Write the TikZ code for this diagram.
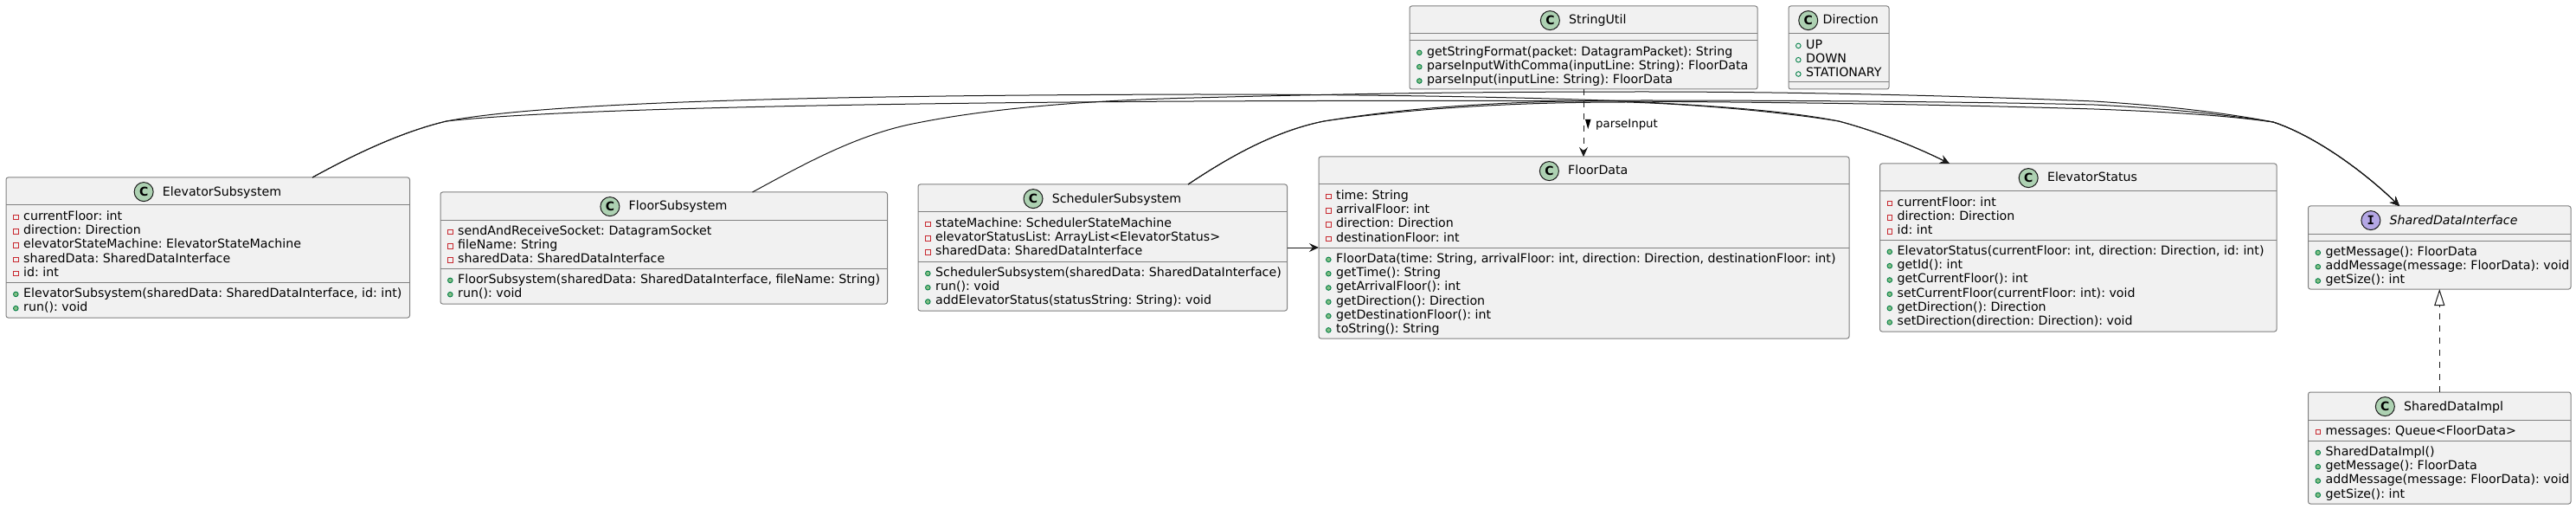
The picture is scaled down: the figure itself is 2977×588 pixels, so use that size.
\documentclass[tikz,border=0pt]{standalone}
\usepackage{fontspec}
\setmainfont{DejaVu Sans}
\newfontfamily\spotC{DejaVu Sans}
\newfontfamily\spotM{DejaVu Sans Mono}
\usetikzlibrary{arrows.meta,calc}
\definecolor{boxfill}{HTML}{F1F1F1}
\definecolor{boxline}{HTML}{808080}
\definecolor{ink}{HTML}{181818}
\definecolor{privc}{HTML}{C82930}
\definecolor{pubf}{HTML}{84BE84}
\definecolor{pubd}{HTML}{038048}
\definecolor{spotclass}{HTML}{ADD1B2}
\definecolor{spotiface}{HTML}{B4A7E5}
\newcommand{\umlfont}{\fontsize{14.2}{16}\selectfont\frenchspacing}
\tikzset{
  classbox/.style={draw=boxline,fill=boxfill,line width=1pt,rounded corners=2.5pt,anchor=north west,inner sep=0pt,outer sep=0pt},
  sepline/.style={draw=boxline,line width=1pt},
  titletext/.style={anchor=base,inner sep=0pt,font=\umlfont},
  rowtext/.style={anchor=base west,inner sep=0pt,font=\umlfont},
  spot/.style={circle,draw=ink,line width=1pt,minimum size=22pt,inner sep=0pt,font=\fontsize{14}{16}\selectfont\bfseries},
  spotc/.style={spot,fill=spotclass},
  spoti/.style={spot,fill=spotiface},
  priv/.style={rectangle,draw=privc,line width=.9pt,fill=none,minimum size=5.6pt,inner sep=0pt},
  pub/.style={circle,draw=pubd,line width=.9pt,fill=pubf,minimum size=5.6pt,inner sep=0pt},
  enumv/.style={circle,draw=pubd,line width=.9pt,fill=none,minimum size=5.6pt,inner sep=0pt},
  rel/.style={draw=ink,line width=1pt,-{Stealth[length=11pt,width=10pt,inset=4pt]}},
  dashrel/.style={rel,dash pattern=on 7pt off 7pt},
  implrel/.style={draw=ink,line width=1pt,dash pattern=on 7pt off 7pt,-{Triangle[open,length=19pt,width=12pt,fill=white]}},
  edgelabel/.style={anchor=base west,inner sep=0pt,font=\fontsize{13.3}{15}\selectfont\frenchspacing}
}
% name, x, y, w, h, title, spot style, font, letter
\newcommand{\umlbox}[9]{%
  \node[classbox,minimum width=#4pt,minimum height=#5pt] (#1) at (#2,#3) {};
  \node[titletext] (#1-t) at ($(#1.north)+(\umldx,21)$) {#6};
  \node[#7] (#1-s) at ($(#1-t.base west)+(-\umldist,-4.4)$) {#8#9};
}
\newcommand{\umlsep}[2]{\draw[sepline] ($(#1.north west)+(0,#2)$) -- ($(#1.north east)+(0,#2)$);}
\newcommand{\umlrows}[3]{%
  \umlsep{#1}{#2}
  \foreach \v/\txt [count=\i] in {#3} {
    \pgfmathsetmacro\yy{#2+4+16.3*(\i-1)+13.2}
    \pgfmathsetmacro\ym{\yy-3.3}
    \node[rowtext] (#1-#2-\i) at ($(#1.north west)+(20,\yy)$) {\txt};
    \node[\v] (#1-#2-m\i) at ($(#1.north west)+(11.3,\ym)$) {};
  }
}
\newcommand{\umldx}{16.3}
\newcommand{\umldist}{21.6}
\begin{document}
\begin{tikzpicture}[x=1pt,y=-1pt]
\useasboundingbox[fill=white] (0,0) rectangle (2977,588);

\umlbox{ES}{7}{205}{466.5}{162}{ElevatorSubsystem}{spotc}{\spotC}{C}
\umlrows{ES}{32}{priv/{currentFloor: int},priv/{direction: Direction},priv/{elevatorStateMachine: ElevatorStateMachine},priv/{sharedData: SharedDataInterface},priv/{id: int}}
\umlrows{ES}{121}{pub/{ElevatorSubsystem(sharedData: SharedDataInterface, id: int)},pub/{run(): void}}

\umlbox{FS}{509}{222}{516.5}{129}{FloorSubsystem}{spotc}{\spotC}{C}
\umlrows{FS}{32}{priv/{sendAndReceiveSocket: DatagramSocket},priv/{fileName: String},priv/{sharedData: SharedDataInterface}}
\umlrows{FS}{88}{pub/{FloorSubsystem(sharedData: SharedDataInterface, fileName: String)},pub/{run(): void}}

\umlbox{SS}{1061}{213}{426.5}{146}{SchedulerSubsystem}{spotc}{\spotC}{C}
\umlrows{SS}{32}{priv/{stateMachine: SchedulerStateMachine},priv/{elevatorStatusList: ArrayList<ElevatorStatus>},priv/{sharedData: SharedDataInterface}}
\umlrows{SS}{89}{pub/{SchedulerSubsystem(sharedData: SharedDataInterface)},pub/{run(): void},pub/{addElevatorStatus(statusString: String): void}}

\umlbox{SU}{1629}{7}{402}{96}{StringUtil}{spotc}{\spotC}{C}
\umlsep{SU}{32}
\umlrows{SU}{40}{pub/{getStringFormat(packet: DatagramPacket): String},pub/{parseInputWithComma(inputLine: String): FloorData},pub/{parseInput(inputLine: String): FloorData}}

\renewcommand{\umldx}{13.7}\renewcommand{\umldist}{16.7}
\umlbox{DI}{2067}{7}{116}{96}{Direction}{spotc}{\spotC}{C}
\renewcommand{\umldx}{16.3}\renewcommand{\umldist}{21.6}
\umlrows{DI}{32}{enumv/{UP},enumv/{DOWN},enumv/{STATIONARY}}
\umlsep{DI}{88}

\umlbox{FD}{1524}{181}{613}{210}{FloorData}{spotc}{\spotC}{C}
\umlrows{FD}{32}{priv/{time: String},priv/{arrivalFloor: int},priv/{direction: Direction},priv/{destinationFloor: int}}
\umlrows{FD}{105}{pub/{FloorData(time: String, arrivalFloor: int, direction: Direction, destinationFloor: int)},pub/{getTime(): String},pub/{getArrivalFloor(): int},pub/{getDirection(): Direction},pub/{getDestinationFloor(): int},pub/{toString(): String}}

\umlbox{EST}{2172.5}{189}{458.5}{194}{ElevatorStatus}{spotc}{\spotC}{C}
\umlrows{EST}{32}{priv/{currentFloor: int},priv/{direction: Direction},priv/{id: int}}
\umlrows{EST}{88}{pub/{ElevatorStatus(currentFloor: int, direction: Direction, id: int)},pub/{getId(): int},pub/{getCurrentFloor(): int},pub/{setCurrentFloor(currentFloor: int): void},pub/{getDirection(): Direction},pub/{setDirection(direction: Direction): void}}

\umlbox{SDI}{2667.5}{238}{303.5}{96}{\itshape SharedDataInterface}{spoti}{\spotM}{I}
\umlsep{SDI}{32}
\umlrows{SDI}{40}{pub/{getMessage(): FloorData},pub/{addMessage(message: FloorData): void},pub/{getSize(): int}}

\umlbox{SDM}{2667.5}{453}{303.5}{129}{SharedDataImpl}{spotc}{\spotC}{C}
\umlrows{SDM}{32}{priv/{messages: Queue<FloorData>}}
\umlrows{SDM}{56}{pub/{SharedDataImpl()},pub/{getMessage(): FloorData},pub/{addMessage(message: FloorData): void},pub/{getSize(): int}}

\coordinate (eOut) at ($(ES.north west)+(354,0)$);
\coordinate (fOut) at ($(FS.north west)+(360.5,0)$);
\coordinate (sOut) at ($(SS.north west)+(312,0)$);
\coordinate (stIn) at ($(EST.north west)+(80.5,0)$);
\coordinate (sdIn) at ($(SDI.north west)+(105.5,0)$);

\draw[rel] (eOut) .. controls (410,178) and (465,152) .. (516,140)
  .. controls (640,116) and (1000,110) .. (1380,109)
  .. controls (1600,109) and (1800,113) .. (1900,118)
  .. controls (1970,122) and (2060,127) .. (2125,140)
  .. controls (2170,152) and (2215,170) .. (stIn);
\draw[rel] (eOut) .. controls (410,178) and (465,152) .. (516,140)
  .. controls (640,126) and (1000,119) .. (1380,117)
  .. controls (1700,115.5) and (2100,116) .. (2420,126)
  .. controls (2500,129) and (2570,133) .. (2627,141)
  .. controls (2670,155) and (2725,192) .. (sdIn);
\draw[rel] (fOut) .. controls (925,192) and (990,155) .. (1060,142)
  .. controls (1140,126) and (1250,116) .. (1380,113)
  .. controls (1600,107) and (1750,106) .. (1900,106)
  .. controls (2100,106) and (2300,112) .. (2420,117)
  .. controls (2500,122) and (2570,130) .. (2627,141)
  .. controls (2670,155) and (2725,192) .. (sdIn);
\draw[rel] (sOut) .. controls (1415,185) and (1470,152) .. (1530,140)
  .. controls (1640,124) and (1760,118) .. (1880,118)
  .. controls (1950,120) and (2050,128) .. (2125,140)
  .. controls (2170,152) and (2215,170) .. (stIn);
\draw[rel] (sOut) .. controls (1415,185) and (1470,152) .. (1530,140)
  .. controls (1640,122) and (1760,116) .. (1900,116)
  .. controls (2100,116) and (2300,118) .. (2420,121)
  .. controls (2500,125) and (2570,132) .. (2627,141)
  .. controls (2670,155) and (2725,192) .. (sdIn);

\draw[rel] ($(SS.north east)+(0,73)$) -- ($(FD.north west)+(0,105)$);
\draw[dashrel] (SU.south) -- (FD.north -| SU.south);
\node[edgelabel] (lbl) at (1844,147.5) {parseInput};
\fill[black] (1832,138) -- (1838.5,138) -- (1835.2,149) -- cycle;
\draw[implrel] (SDM.north) -- (SDI.south);
\end{tikzpicture}
\end{document}
